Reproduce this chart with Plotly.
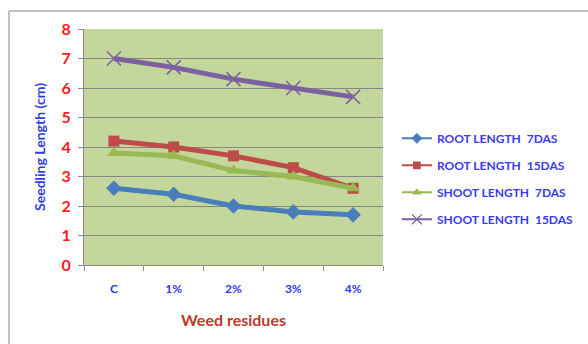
import plotly.graph_objects as go

# Weed residue treatments and seedling lengths (cm)
categories = ["C", "1%", "2%", "3%", "4%"]
root_7das = [2.6, 2.4, 2.0, 1.8, 1.7]
root_15das = [4.2, 4.0, 3.7, 3.3, 2.6]
shoot_7das = [3.8, 3.7, 3.2, 3.0, 2.6]
shoot_15das = [7.0, 6.7, 6.3, 6.0, 5.7]
y_ticks = [0, 1, 2, 3, 4, 5, 6, 7, 8]

series = [
    ("ROOT LENGTH  7DAS", root_7das, "#4a7ebb", "diamond", 12),
    ("ROOT LENGTH  15DAS", root_15das, "#be4b48", "square", 11),
    ("SHOOT LENGTH  7DAS", shoot_7das, "#98b954", "triangle-up", 12),
    ("SHOOT LENGTH  15DAS", shoot_15das, "#7d60a0", "x-thin", 14),
]

fig = go.Figure()
for i, (name, vals, color, sym, size) in enumerate(series):
    marker = dict(symbol=sym, size=size, color=color)
    if sym == "x-thin":
        marker["line"] = dict(color=color, width=1.5)
    # thick plotted series
    fig.add_trace(go.Scatter(
        x=categories, y=vals, name=name, mode="lines+markers",
        line=dict(color=color, width=5), marker=marker,
        legendgroup=f"g{i}", showlegend=False,
    ))
    # thin legend key for the same series
    key_marker = dict(symbol=sym, size=size * 0.7, color=color)
    if sym == "x-thin":
        key_marker["line"] = dict(color=color, width=1.2)
    fig.add_trace(go.Scatter(
        x=[None], y=[None], name=name, mode="lines+markers",
        line=dict(color=color, width=2), marker=key_marker,
        legendgroup=f"g{i}", showlegend=True,
    ))

fig.update_layout(
    width=588, height=344,
    margin=dict(l=84, r=205, t=29, b=79, autoexpand=False),
    paper_bgcolor="white",
    plot_bgcolor="#c3d69b",
    font=dict(family="Lato, Open Sans, sans-serif"),
    showlegend=True,
    legend=dict(
        xref="container", yref="container",
        x=0.675, y=0.64, xanchor="left", yanchor="top",
        font=dict(size=12, color="#3a3af0", weight="bold"),
        itemwidth=30,
        tracegroupgap=8, bgcolor="rgba(0,0,0,0)",
    ),
    xaxis=dict(
        type="category", range=[-0.5, 4.5],
        showgrid=False, showline=True, linecolor="#8c8c8c", linewidth=1,
        ticks="outside", tickson="boundaries", ticklen=5, tickcolor="#8c8c8c",
        tickfont=dict(size=12, color="#3333ff", weight="bold"),
        ticklabelstandoff=13,
        title=dict(text="Weed residues", standoff=19,
                   font=dict(size=16, color="#c0392b", weight="bold")),
    ),
    yaxis=dict(
        range=[0, 8], tickvals=y_ticks, showgrid=True,
        gridcolor="#868686", gridwidth=1,
        showline=True, linecolor="#8c8c8c", linewidth=1,
        ticks="outside", ticklen=5, tickcolor="#8c8c8c",
        tickfont=dict(size=16, color="#ff1a1a", weight="bold"),
        ticklabelstandoff=4,
        title=dict(text="Seedling Length (cm)", standoff=12,
                   font=dict(size=14, color="#2f3fe0", weight="bold")),
        zeroline=False,
    ),
)

# Outer chart frame (top and left edges)
fig.add_shape(type="line", xref="paper", yref="paper",
              x0=-0.251, x1=1.7, y0=1.076, y1=1.076,
              line=dict(color="#bfbfbf", width=2))
fig.add_shape(type="line", xref="paper", yref="paper",
              x0=-0.251, x1=-0.251, y0=1.076, y1=-0.4,
              line=dict(color="#bfbfbf", width=2))

fig.write_html("out.html")
